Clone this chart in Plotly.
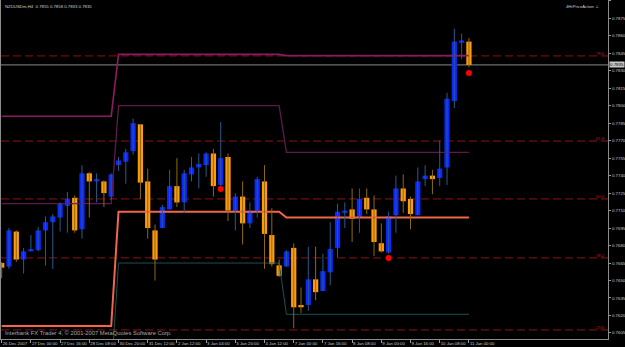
import plotly.graph_objects as go

# ---------------- data (NZDUSDm, H4) ----------------
opens  = [0.7665,0.7662,0.7692,0.7668,0.7675,0.7676,0.7693,0.7700,0.7704,0.7714,
          0.7721,0.7694,0.7742,0.7735,0.7735,0.7722,0.7749,0.7752,0.7761,0.7784,
          0.7735,0.7693,0.7695,0.7711,0.7731,0.7717,0.7741,0.7747,0.7749,0.7759,
          0.7732,0.7756,0.7709,0.7722,0.7699,0.7709,0.7735,0.7689,0.7663,0.7662,
          0.7678,0.7629,0.7629,0.7651,0.7641,0.7657,0.7678,0.7708,0.7711,0.7704,
          0.7721,0.7711,0.7682,0.7674,0.7706,0.7729,0.7720,0.7706,0.7737,0.7740,
          0.7738,0.7747,0.7804,0.7854,0.7855]
highs  = [0.7666,0.7695,0.7693,0.7678,0.7689,0.7696,0.7705,0.7707,0.7717,0.7726,
          0.7723,0.7749,0.7743,0.7742,0.7736,0.7742,0.7756,0.7763,0.7789,0.7784,
          0.7746,0.7698,0.7715,0.7745,0.7755,0.7745,0.7756,0.7759,0.7760,0.7763,
          0.7786,0.7759,0.7725,0.7735,0.7717,0.7739,0.7749,0.7712,0.7668,0.7676,
          0.7682,0.7644,0.7679,0.7679,0.7673,0.7700,0.7716,0.7717,0.7729,0.7729,
          0.7729,0.7723,0.7699,0.7709,0.7740,0.7741,0.7722,0.7747,0.7749,0.7745,
          0.7770,0.7811,0.7866,0.7862,0.7858]
lows   = [0.7652,0.7660,0.7666,0.7656,0.7675,0.7675,0.7663,0.7660,0.7692,0.7691,
          0.7691,0.7686,0.7704,0.7717,0.7713,0.7719,0.7744,0.7733,0.7758,0.7720,
          0.7686,0.7650,0.7695,0.7711,0.7713,0.7708,0.7735,0.7729,0.7739,0.7722,
          0.7730,0.7701,0.7693,0.7681,0.7695,0.7704,0.7660,0.7662,0.7653,0.7662,
          0.7609,0.7622,0.7624,0.7633,0.7641,0.7646,0.7670,0.7695,0.7683,0.7691,
          0.7707,0.7671,0.7674,0.7673,0.7691,0.7708,0.7694,0.7706,0.7731,0.7724,
          0.7731,0.7732,0.7798,0.7840,0.7833]
closes = [0.7661,0.7693,0.7668,0.7675,0.7677,0.7693,0.7700,0.7705,0.7716,0.7720,
          0.7693,0.7742,0.7735,0.7737,0.7725,0.7741,0.7753,0.7760,0.7785,0.7734,
          0.7695,0.7668,0.7713,0.7731,0.7717,0.7742,0.7747,0.7750,0.7759,0.7731,
          0.7755,0.7710,0.7722,0.7699,0.7710,0.7737,0.7690,0.7664,0.7654,0.7675,
          0.7627,0.7627,0.7651,0.7640,0.7658,0.7677,0.7709,0.7710,0.7703,0.7720,
          0.7711,0.7683,0.7675,0.7705,0.7729,0.7718,0.7707,0.7735,0.7740,0.7737,
          0.7746,0.7806,0.7855,0.7856,0.7835]

tick_bars   = [0,4,8,12,16,20,24,28,32,36,40,44,48,52,56,60,64]
tick_labels = ["26 Dec 2007","27 Dec 00:00","27 Dec 16:00","28 Dec 08:00","30 Dec 20:00",
               "31 Dec 12:00","2 Jan 12:00","3 Jan 04:00","3 Jan 20:00","4 Jan 12:00",
               "7 Jan 00:00","7 Jan 16:00","8 Jan 08:00","9 Jan 00:00","9 Jan 16:00",
               "10 Jan 08:00","11 Jan 00:00"]

price_ticks = [0.7605,0.7620,0.7635,0.7650,0.7665,0.7680,0.7695,0.7710,0.7725,0.7740,
               0.7755,0.7770,0.7785,0.7800,0.7815,0.7830,0.7845,0.7860,0.7875,0.7890]

# indicator step levels (3 segments: bars 0-15, 16-38, 39-64)
seg_last_bar   = [15, 38, 64]
level_top      = [0.7791, 0.7844, 0.7843]
level_mid_up   = [0.7716, 0.7800, 0.7760]
level_mid_low  = [0.7611, 0.7709, 0.7704]
level_bottom   = [0.7570, 0.7665, 0.7621]

fib_levels = [0.78427, 0.77697, 0.77200, 0.76694, 0.76076]
fib_labels = ["78.6", "61.8", "50.0", "38.2", "23.6"]

signal_bars   = [30, 53, 64]
signal_prices = [0.77286, 0.76694, 0.78281]

bid_price = 0.7835
title_text = "NZDUSDm,H4  0.7855 0.7858 0.7833 0.7835"

# ---------------- figure ----------------
n = len(opens)
bars = list(range(n))

def seg_series(levels):
    out = []
    for b in bars:
        for k, last in enumerate(seg_last_bar):
            if b <= last:
                out.append(levels[k]); break
    return out

fig = go.Figure()

for lv in fib_levels:
    fig.add_shape(type="line", xref="paper", x0=0, x1=1, y0=lv, y1=lv,
                  line=dict(color="#8E1212", width=1, dash="8px,4px"), layer="below")
fig.add_shape(type="line", xref="paper", x0=0, x1=1, y0=bid_price, y1=bid_price,
              line=dict(color="#8A8A8A", width=1), layer="below")

fig.add_trace(go.Scatter(x=bars, y=seg_series(level_bottom), mode="lines",
                         line=dict(color="#1C5252", width=1), hoverinfo="skip"))
fig.add_trace(go.Scatter(x=bars, y=seg_series(level_mid_up), mode="lines",
                         line=dict(color="#5E1A4C", width=1.3), hoverinfo="skip"))
fig.add_trace(go.Scatter(x=bars, y=seg_series(level_top), mode="lines",
                         line=dict(color="#8C1C60", width=1.6), hoverinfo="skip"))
fig.add_trace(go.Scatter(x=bars, y=seg_series(level_mid_low), mode="lines",
                         line=dict(color="#F2664A", width=2), hoverinfo="skip"))

for bull, col in [(True, "#2A5A8C"), (False, "#8C6A10")]:
    wx, wy = [], []
    for i in bars:
        if (closes[i] >= opens[i]) == bull:
            wx += [i, i, None]
            wy += [lows[i], highs[i], None]
    fig.add_trace(go.Scatter(x=wx, y=wy, mode="lines",
                             line=dict(color=col, width=1), hoverinfo="skip"))

for bull, col in [(True, "#0A28FF"), (False, "#FF9A0A")]:
    bx, by, bb = [], [], []
    for i in bars:
        if (closes[i] >= opens[i]) == bull:
            lo = min(opens[i], closes[i]); hi = max(opens[i], closes[i])
            bx.append(i); bb.append(lo); by.append(max(hi - lo, 0.00012))
    fig.add_trace(go.Bar(x=bx, y=by, base=bb, width=0.72,
                         marker=dict(color=col, line=dict(width=0)), hoverinfo="skip"))

fig.add_trace(go.Scatter(x=signal_bars, y=signal_prices, mode="markers",
                         marker=dict(color="#FF0000", size=6), hoverinfo="skip"))

FONT = "Liberation Sans"
ann = []
for lv, lab in zip(fib_levels, fib_labels):
    ann.append(dict(xref="paper", x=0.998, y=lv, yref="y", text=lab, showarrow=False,
                    xanchor="right", yanchor="bottom", yshift=-2,
                    font=dict(color="#C0181A", size=4.2, family=FONT)))
ann.append(dict(xref="paper", yref="paper", x=0.004, y=0.995, text=title_text,
                showarrow=False, xanchor="left", yanchor="top",
                font=dict(color="#D0D0D0", size=4.3, family=FONT)))
ann.append(dict(xref="paper", yref="paper", x=0.989, y=0.995, text="4HrPriceAction ☺",
                showarrow=False, xanchor="right", yanchor="top",
                font=dict(color="#D0D0D0", size=4.2, family=FONT)))
ann.append(dict(xref="paper", yref="paper", x=0.004, y=0.002,
                text="Interbank FX Trader 4, © 2001-2007 MetaQuotes Software Corp.",
                showarrow=False, xanchor="left", yanchor="bottom",
                font=dict(color="#A8A8A8", size=5.8, family=FONT)))
ann.append(dict(xref="paper", x=1.0, y=bid_price, yref="y", text="0.7835",
                showarrow=False, xanchor="left", yanchor="middle", xshift=1,
                bgcolor="#C8C8C8", borderpad=0,
                font=dict(color="#000000", size=4.4, family=FONT)))

fig.update_layout(
    width=625, height=347,
    margin=dict(l=1, r=17, t=0, b=8),
    paper_bgcolor="#000000", plot_bgcolor="#000000",
    showlegend=False, barmode="overlay",
    annotations=ann,
    xaxis=dict(range=[-0.096, 83.05], tickmode="array", tickvals=tick_bars,
               ticktext=tick_labels, ticks="outside", ticklen=3, tickcolor="#9A9A9A",
               ticklabelposition="outside right", tickangle=0, automargin=False,
               tickfont=dict(color="#C8C8C8", size=4.3, family=FONT),
               showgrid=False, zeroline=False, showline=True, linecolor="#8C8C8C",
               linewidth=1, mirror=True, fixedrange=True),
    yaxis=dict(range=[0.75998, 0.78907], side="right", tickmode="array",
               tickvals=price_ticks, ticktext=[f"{p:.4f}" for p in price_ticks],
               ticks="outside", ticklen=2, tickcolor="#9A9A9A", automargin=False,
               ticklabelstandoff=0,
               tickfont=dict(color="#C8C8C8", size=4.4, family=FONT),
               showgrid=False, zeroline=False, showline=True, linecolor="#8C8C8C",
               linewidth=1, mirror=True, fixedrange=True),
)

fig.write_html("out.html", config={"displayModeBar": False},
               post_script="document.body.style.margin='0';")
